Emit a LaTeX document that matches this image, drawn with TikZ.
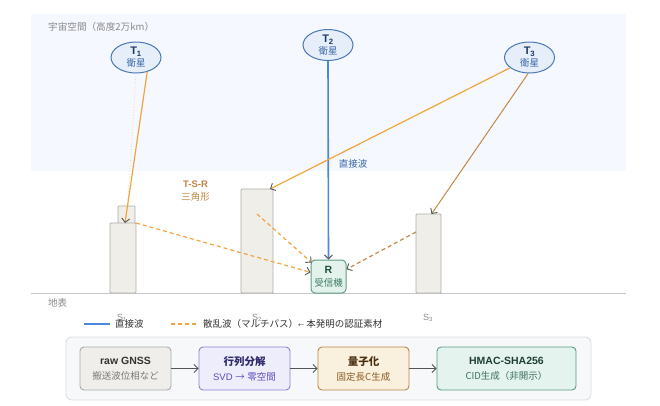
\documentclass[tikz,border=0pt]{standalone}
\usepackage{fontspec}
\setmainfont{Liberation Sans}
\newfontfamily\jp{Noto Sans CJK JP}
\usetikzlibrary{shapes.geometric,arrows.meta,calc}
\definecolor{spacebg}{HTML}{F5F8FE}
\definecolor{satfill}{HTML}{E5EEF9}
\definecolor{satline}{HTML}{4C78B5}
\definecolor{sattitle}{HTML}{1F3A68}
\definecolor{satsub}{HTML}{3A66A8}
\definecolor{directblue}{HTML}{4A88D9}
\definecolor{scatorange}{HTML}{F0A540}
\definecolor{scattan}{HTML}{C48A45}
\definecolor{faintorange}{HTML}{F5D2A6}
\definecolor{bldfill}{HTML}{EFEEE9}
\definecolor{bldline}{HTML}{AEAEAA}
\definecolor{tipgray}{HTML}{555555}
\definecolor{groundgray}{HTML}{C8C8C8}
\definecolor{labelgray}{HTML}{8A8A8A}
\definecolor{rfill}{HTML}{E3F3EC}
\definecolor{rline}{HTML}{5E9C86}
\definecolor{rtitle}{HTML}{1F4F3F}
\definecolor{rsub}{HTML}{3E7D66}
\definecolor{tsr}{HTML}{C08540}
\definecolor{panelfill}{HTML}{F7F8FA}
\definecolor{panelline}{HTML}{DADDE2}
\definecolor{rawfill}{HTML}{EFEEEA}
\definecolor{rawline}{HTML}{AAAAAA}
\definecolor{rawsub}{HTML}{7A7A7A}
\definecolor{svdfill}{HTML}{EEEDFC}
\definecolor{svdline}{HTML}{8B80D8}
\definecolor{svdtitle}{HTML}{2E2A6B}
\definecolor{svdsub}{HTML}{5B4FC0}
\definecolor{qfill}{HTML}{FAF0DE}
\definecolor{qline}{HTML}{B8864A}
\definecolor{qtitle}{HTML}{4A2E10}
\definecolor{qsub}{HTML}{8A5A20}
\definecolor{hfill}{HTML}{E4F3EE}
\definecolor{hline}{HTML}{5A9A84}
\definecolor{htitle}{HTML}{1F3F36}
\definecolor{hsub}{HTML}{3E7060}
\definecolor{darktext}{HTML}{333333}
\begin{document}
\begin{tikzpicture}[x=1pt,y=-1pt,
  sat/.style={ellipse, draw=satline, fill=satfill, line width=1pt, minimum width=50pt, minimum height=31pt, inner sep=0pt, align=center},
  bld/.style={draw=bldline, fill=bldfill, line width=0.9pt, rounded corners=1pt, inner sep=0pt, outer sep=0pt, anchor=south west},
  tipped/.style={-{Straight Barb[length=4pt,width=8pt,color=tipgray,line width=0.9pt]}},
  pbox/.style={rounded corners=4pt, line width=0.9pt, minimum width=91pt, minimum height=43pt, inner sep=0pt, align=center}
]
\useasboundingbox (0,0) rectangle (660,405);
% space
\fill[spacebg] (31,14) rectangle (626,171);
\node[anchor=west, text=labelgray, inner sep=0pt] (spacelbl) at (48,27) {\jp\fontsize{9.6}{10}\selectfont 宇宙空間（高度2万km）};
% ground
\draw[groundgray, line width=1pt] (31,293) -- (626,293);
\node[anchor=west, text=labelgray, inner sep=0pt] (groundlbl) at (48,303) {\jp\fontsize{9.5}{10}\selectfont 地表};
% satellites
\node[sat] (t1) at (136,57.5) {{\fontsize{11}{11}\selectfont\bfseries\color{sattitle}T\textsubscript{1}}\\[0pt]{\jp\fontsize{9.5}{10}\selectfont\color{satsub}衛星}};
\node[sat] (t2) at (328,45) {{\fontsize{11}{11}\selectfont\bfseries\color{sattitle}T\textsubscript{2}}\\[0pt]{\jp\fontsize{9.5}{10}\selectfont\color{satsub}衛星}};
\node[sat] (t3) at (529.5,57.5) {{\fontsize{11}{11}\selectfont\bfseries\color{sattitle}T\textsubscript{3}}\\[0pt]{\jp\fontsize{9.5}{10}\selectfont\color{satsub}衛星}};
% buildings
\node[bld, minimum width=17pt, minimum height=18pt] (s1top) at (118,224) {};
\node[bld, minimum width=26pt, minimum height=70pt] (s1) at (110,293) {};
\node[bld, minimum width=32pt, minimum height=104pt] (s2) at (241,293) {};
\node[bld, minimum width=25pt, minimum height=79pt] (s3) at (416,293) {};
\node[text=labelgray, inner sep=0pt] (s1lbl) at (122,318) {\fontsize{9}{10}\selectfont S\textsubscript{1}};
\node[text=labelgray, inner sep=0pt] (s2lbl) at (257,318) {\fontsize{9}{10}\selectfont S\textsubscript{2}};
\node[text=labelgray, inner sep=0pt] (s3lbl) at (428,318) {\fontsize{9}{10}\selectfont S\textsubscript{3}};
% receiver
\node[draw=rline, fill=rfill, line width=1pt, rounded corners=4pt, minimum width=35pt, minimum height=33pt, inner sep=0pt, align=center] (r) at (328.5,276.5)
  {{\fontsize{10.5}{11}\selectfont\bfseries\color{rtitle}R}\\[1pt]{\jp\fontsize{9.5}{10}\selectfont\color{rsub}受信機}};
% TSR label
\node[text=tsr, align=center, inner sep=0pt] (tsrlbl) at (195.5,191.5) {{\bfseries\fontsize{9.5}{11}\selectfont T-S-R}\\[1pt]{\jp\fontsize{9.5}{11}\selectfont 三角形}};
% faint dotted line
\coordinate (fadeend) at (128,200);
\draw[faintorange, dotted, line width=0.8pt] (t1.south) -- (fadeend);
% direct wave
\draw[directblue, line width=1.6pt, tipped] (t2.south) -- (r.north);
\node[text=satsub, inner sep=0pt] (directlbl) at (353,164) {\jp\fontsize{9.5}{10}\selectfont 直接波};
% satellite to buildings
\draw[scatorange, line width=1.2pt, tipped] (t1.-52) -- ([xshift=2pt]s1.north);
\draw[scatorange, line width=1.2pt, tipped] (t3.-152) -- ([xshift=-3pt]s2.north east);
\draw[scattan, line width=1pt, tipped] (t3.-95) -- ([xshift=3pt]s3.north);
% scattered waves
\draw[scatorange, line width=1.2pt, dash pattern=on 4pt off 3pt, tipped] (s1.north east) -- (r.167);
\draw[scatorange, line width=1.2pt, dash pattern=on 4pt off 3pt, tipped] ([yshift=-25pt]s2.north) -- ([xshift=1pt,yshift=-3pt]r.north west);
\draw[scattan, line width=1.2pt, dash pattern=on 4pt off 3pt, tipped] ([yshift=-18pt]s3.north west) -- (r.22);
% legend
\coordinate (lg1a) at (84,324);
\coordinate (lg1b) at (110,324);
\draw[directblue, line width=1.5pt] (lg1a) -- (lg1b);
\node[anchor=west, text=darktext, inner sep=0pt] (lg1txt) at (115,324) {\jp\fontsize{9.5}{10}\selectfont 直接波};
\coordinate (lg2a) at (171,324);
\coordinate (lg2b) at (198,324);
\draw[scatorange, line width=1.5pt, dash pattern=on 4pt off 3pt] (lg2a) -- (lg2b);
\node[anchor=west, text=darktext, inner sep=0pt] (lg2txt) at (203,324) {\jp\fontsize{9.5}{10}\selectfont 散乱波（マルチパス）{\fontsize{6}{8}\selectfont ←} 本発明の認証素材};
% pipeline
\node[draw=panelline, fill=panelfill, line width=0.9pt, rounded corners=6pt, minimum width=525pt, minimum height=63pt, inner sep=0pt] (panel) at (328.5,368.5) {};
\node[pbox, draw=rawline, fill=rawfill] (raw) at (125.5,368.5)
  {{\bfseries\fontsize{10.5}{12}\selectfont\color{darktext}raw GNSS}\\[3pt]{\jp\fontsize{9.5}{10}\selectfont\color{rawsub}搬送波位相など}};
\node[pbox, draw=svdline, fill=svdfill] (svd) at (244.5,368.5)
  {{\jp\bfseries\fontsize{10.5}{12}\selectfont\color{svdtitle}行列分解}\\[3pt]{\fontsize{9.5}{10}\selectfont\color{svdsub}SVD {\jp →} {\jp 零空間}}};
\node[pbox, draw=qline, fill=qfill] (quant) at (363.5,368.5)
  {{\jp\bfseries\fontsize{10.5}{12}\selectfont\color{qtitle}量子化}\\[3pt]{\jp\fontsize{9.5}{10}\selectfont\color{qsub}固定長C生成}};
\node[pbox, draw=hline, fill=hfill, minimum width=139pt] (hmac) at (506.5,368.5)
  {{\bfseries\fontsize{10.5}{12}\selectfont\color{htitle}HMAC-SHA256}\\[3pt]{\jp\fontsize{9.5}{10}\selectfont\color{hsub}CID生成（非開示）}};
\draw[tipgray, line width=0.9pt, tipped] (raw.east) -- (svd.west);
\draw[tipgray, line width=0.9pt, tipped] (svd.east) -- (quant.west);
\draw[tipgray, line width=0.9pt, tipped] (quant.east) -- (hmac.west);
\end{tikzpicture}
\end{document}
